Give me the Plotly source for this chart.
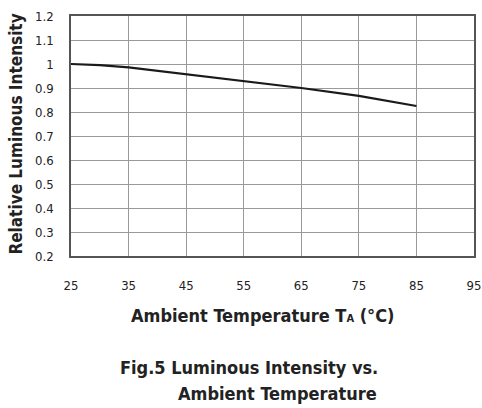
import plotly.graph_objects as go

temp_c = [25, 30, 35, 45, 55, 65, 75, 85]
rel_intensity = [1.0, 0.995, 0.986, 0.957, 0.93, 0.90, 0.867, 0.825]

x_ticks = [25, 35, 45, 55, 65, 75, 85, 95]
y_ticks = [0.2, 0.3, 0.4, 0.5, 0.6, 0.7, 0.8, 0.9, 1.0, 1.1, 1.2]
y_tick_text = ["0.2", "0.3", "0.4", "0.5", "0.6", "0.7", "0.8", "0.9", "1", "1.1", "1.2"]

FONT = "DejaVu Sans Condensed"

fig = go.Figure()
fig.add_trace(go.Scatter(x=temp_c, y=rel_intensity, mode="lines",
                         line=dict(color="#1a1a1a", width=2.2), showlegend=False))

fig.update_layout(
    width=482, height=408,
    margin=dict(l=71, r=8, t=16, b=152),
    paper_bgcolor="white", plot_bgcolor="white",
    font=dict(family=FONT, color="#222"),
    xaxis=dict(range=[25, 95], tickvals=x_ticks, ticktext=[str(v) for v in x_ticks],
               showgrid=True, gridcolor="#9a9a9a", gridwidth=1,
               showline=True, linecolor="#555", linewidth=1.5, mirror=True,
               ticks="", ticklabelstandoff=17, tickfont=dict(size=13, family=FONT),
               zeroline=False, fixedrange=True, automargin=False),
    yaxis=dict(range=[0.2, 1.2], tickvals=y_ticks, ticktext=y_tick_text,
               showgrid=True, gridcolor="#9a9a9a", gridwidth=1,
               showline=True, linecolor="#555", linewidth=1.5, mirror=True,
               ticks="", ticklabelstandoff=13, tickfont=dict(size=13, family=FONT),
               zeroline=False, fixedrange=True, automargin=False),
)

fig.add_annotation(text="<b>Relative Luminous Intensity</b>", textangle=-90,
                   xref="paper", yref="paper", x=-0.1365, y=0.51, xanchor="center", yanchor="middle",
                   showarrow=False, font=dict(size=17, family=FONT, color="#222"))
fig.add_annotation(text="<b>Ambient Temperature T<span style='font-size:11px'>A</span> (°C)</b>",
                   xref="paper", yref="paper", x=0.475, y=-0.246, xanchor="center", yanchor="middle",
                   showarrow=False, font=dict(size=18, family=FONT, color="#222"))
fig.add_annotation(text="<b>Fig.5 Luminous Intensity vs.</b>",
                   xref="paper", yref="paper", x=0.117, y=-0.4625, xanchor="left", yanchor="middle",
                   showarrow=False, font=dict(size=18, family=FONT, color="#222"))
fig.add_annotation(text="<b>Ambient Temperature</b>",
                   xref="paper", yref="paper", x=0.26, y=-0.571, xanchor="left", yanchor="middle",
                   showarrow=False, font=dict(size=18, family=FONT, color="#222"))

fig.write_html("out.html",
               config={"displayModeBar": False},
               post_script="document.body.style.margin='0px';document.body.style.overflow='hidden';")
